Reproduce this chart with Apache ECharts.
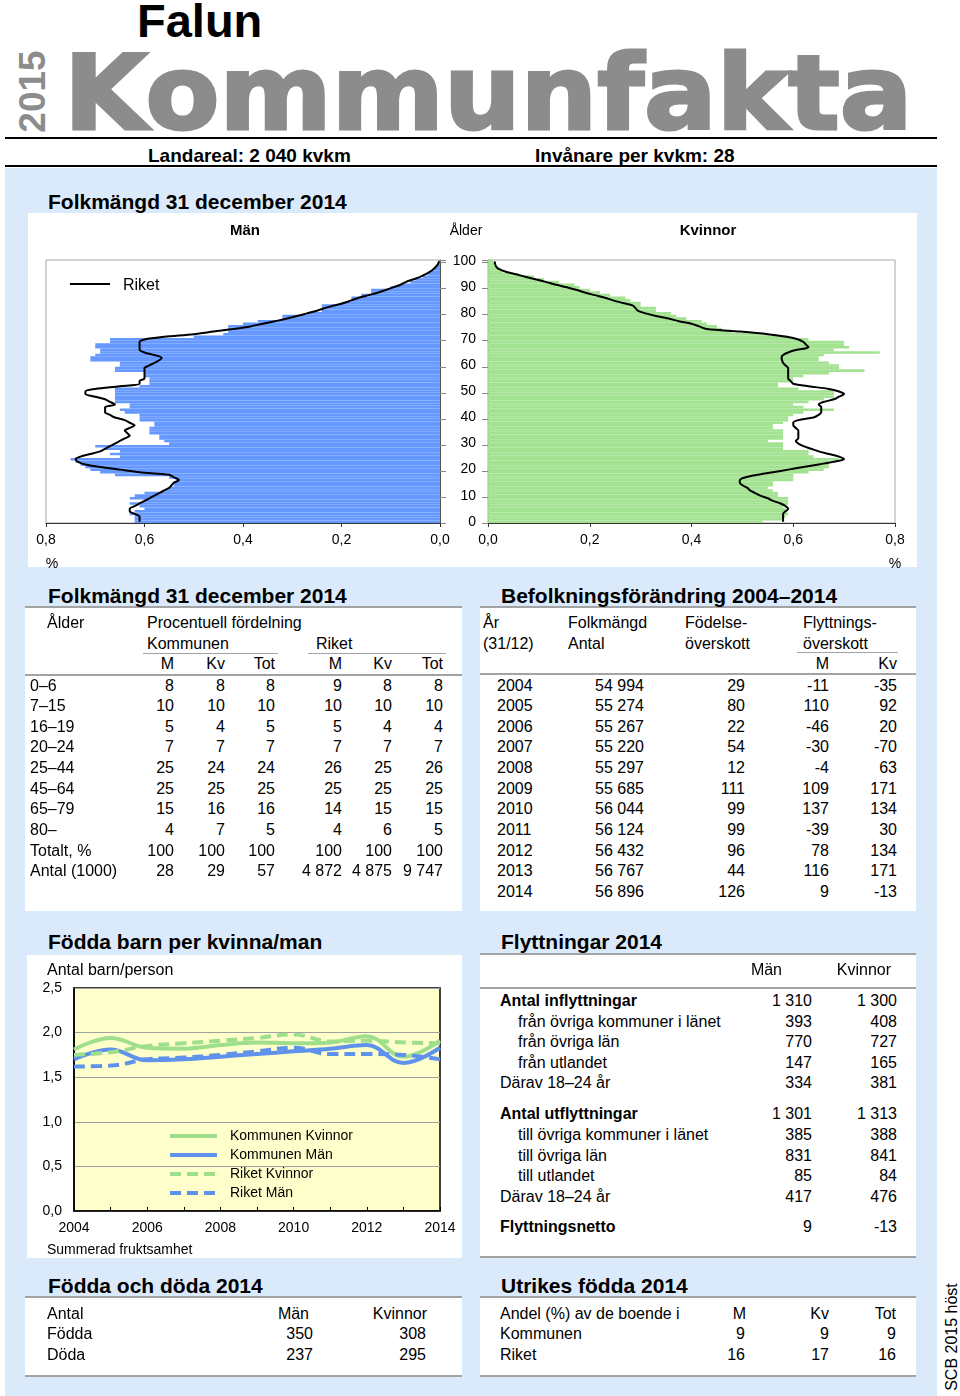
<!DOCTYPE html>
<html lang="sv"><head><meta charset="utf-8"><title>Falun Kommunfakta 2015</title>
<script src="https://cdn.jsdelivr.net/npm/echarts/dist/echarts.min.js"></script>
<style>
html,body{margin:0;padding:0;}
body{width:960px;height:1396px;position:relative;overflow:hidden;background:#fff;font-family:"Liberation Sans",Arial,sans-serif;}
.t{position:absolute;white-space:nowrap;z-index:3;}
.box{position:absolute;}
</style></head><body>
<div id="pyr" class="box" style="left:28px;top:213px;width:889px;height:354px;z-index:2;"></div>
<div id="tfr" class="box" style="left:27px;top:955px;width:435px;height:303px;z-index:2;"></div>
<script>
// ---------- DATA ----------
const ages = [0,1,2,3,4,5,6,7,8,9,10,11,12,13,14,15,16,17,18,19,20,21,22,23,24,25,26,27,28,29,30,31,32,33,34,35,36,37,38,39,40,41,42,43,44,45,46,47,48,49,50,51,52,53,54,55,56,57,58,59,60,61,62,63,64,65,66,67,68,69,70,71,72,73,74,75,76,77,78,79,80,81,82,83,84,85,86,87,88,89,90,91,92,93,94,95,96,97,98,99,100];
const kommunMan = [0.62,0.62,0.62,0.63,0.62,0.60,0.61,0.63,0.60,0.63,
 0.62,0.60,0.56,0.55,0.54,0.54,0.53,0.55,0.66,0.69,
 0.71,0.72,0.73,0.74,0.75,0.65,0.67,0.65,0.68,0.70,
 0.55,0.56,0.57,0.57,0.59,0.59,0.59,0.58,0.58,0.61,
 0.61,0.61,0.64,0.65,0.63,0.63,0.66,0.66,0.66,0.66,
 0.66,0.66,0.61,0.59,0.59,0.59,0.60,0.60,0.66,0.66,
 0.65,0.65,0.71,0.71,0.70,0.69,0.69,0.70,0.70,0.67,
 0.67,0.50,0.44,0.43,0.43,0.43,0.40,0.37,0.32,0.32,
 0.27,0.24,0.24,0.24,0.20,0.18,0.18,0.16,0.14,0.14,
 0.10,0.08,0.06,0.05,0.035,0.025,0.02,0.012,0.008,0.005,
 0.003];
const riketMan = [0.61,0.61,0.61,0.62,0.63,0.63,0.62,0.61,0.60,0.59,
 0.58,0.57,0.56,0.55,0.545,0.54,0.53,0.54,0.55,0.61,
 0.65,0.69,0.72,0.735,0.74,0.73,0.71,0.69,0.68,0.67,
 0.66,0.65,0.64,0.63,0.635,0.64,0.63,0.62,0.63,0.64,
 0.66,0.67,0.68,0.68,0.68,0.66,0.67,0.68,0.70,0.72,
 0.72,0.70,0.65,0.61,0.61,0.60,0.60,0.60,0.60,0.60,
 0.59,0.58,0.57,0.565,0.58,0.60,0.61,0.61,0.61,0.61,
 0.60,0.56,0.50,0.46,0.42,0.385,0.36,0.335,0.31,0.29,
 0.27,0.25,0.235,0.215,0.195,0.18,0.165,0.145,0.125,0.11,
 0.095,0.08,0.07,0.055,0.04,0.03,0.02,0.013,0.008,0.004,
 0.002];
const kommunKvinnor = [0.54,0.58,0.585,0.59,0.585,0.585,0.58,0.59,0.59,0.59,
 0.57,0.57,0.56,0.55,0.56,0.56,0.60,0.60,0.60,0.63,
 0.66,0.67,0.67,0.67,0.69,0.64,0.63,0.63,0.58,0.58,
 0.58,0.55,0.58,0.58,0.58,0.58,0.56,0.56,0.58,0.59,
 0.59,0.60,0.62,0.68,0.62,0.60,0.63,0.66,0.68,0.68,
 0.68,0.61,0.57,0.57,0.60,0.60,0.62,0.67,0.74,0.69,
 0.69,0.67,0.65,0.65,0.66,0.77,0.68,0.71,0.70,0.70,
 0.63,0.59,0.55,0.48,0.46,0.45,0.43,0.42,0.39,0.37,
 0.36,0.33,0.33,0.30,0.30,0.28,0.27,0.24,0.22,0.20,
 0.18,0.17,0.14,0.11,0.09,0.06,0.03,0.025,0.015,0.012,
 0.01];
const riketKvinnor = [0.58,0.58,0.58,0.58,0.585,0.59,0.585,0.575,0.56,0.55,
 0.535,0.525,0.515,0.51,0.50,0.495,0.495,0.505,0.53,0.56,
 0.59,0.62,0.65,0.68,0.70,0.69,0.67,0.65,0.635,0.62,
 0.61,0.605,0.61,0.61,0.61,0.61,0.605,0.60,0.60,0.61,
 0.64,0.65,0.655,0.655,0.655,0.65,0.66,0.68,0.69,0.70,
 0.69,0.67,0.63,0.60,0.595,0.59,0.59,0.59,0.59,0.59,
 0.585,0.58,0.578,0.577,0.58,0.59,0.607,0.63,0.625,0.62,
 0.61,0.587,0.55,0.495,0.43,0.415,0.40,0.375,0.355,0.33,
 0.31,0.295,0.29,0.285,0.265,0.246,0.23,0.21,0.19,0.175,
 0.155,0.134,0.115,0.095,0.075,0.055,0.035,0.022,0.016,0.014,
 0.013];
const pyrTicks = [0, 0.2, 0.4, 0.6, 0.8];

const tfrYears = ['2004','2005','2006','2007','2008','2009','2010','2011','2012','2013','2014'];
const tfrKommunKvinnor = [1.81,1.94,1.83,1.82,1.86,1.89,1.88,1.89,1.96,1.73,1.91];
const tfrKommunMan     = [1.70,1.81,1.69,1.70,1.73,1.76,1.79,1.82,1.86,1.66,1.83];
const tfrRiketKvinnor  = [1.75,1.78,1.85,1.88,1.91,1.94,1.98,1.90,1.91,1.89,1.88];
const tfrRiketMan      = [1.62,1.63,1.70,1.72,1.75,1.79,1.83,1.76,1.76,1.75,1.70];

const ageGroups = ['0–6','7–15','16–19','20–24','25–44','45–64','65–79','80–','Totalt, %','Antal (1000)'];
const komM   = ['8','10','5','7','25','25','15','4','100','28'];
const komKv  = ['8','10','4','7','24','25','16','7','100','29'];
const komTot = ['8','10','5','7','24','25','16','5','100','57'];
const rikM   = ['9','10','5','7','26','25','14','4','100','4 872'];
const rikKv  = ['8','10','4','7','25','25','15','6','100','4 875'];
const rikTot = ['8','10','4','7','26','25','15','5','100','9 747'];

const befYears  = ['2004','2005','2006','2007','2008','2009','2010','2011','2012','2013','2014'];
const folkmangd = ['54 994','55 274','55 267','55 220','55 297','55 685','56 044','56 124','56 432','56 767','56 896'];
const fodOversk = [29,80,22,54,12,111,99,99,96,44,126];
const flyttOverM  = [-11,110,-46,-30,-4,109,137,-39,78,116,9];
const flyttOverKv = [-35,92,20,-70,63,171,134,30,134,171,-13];

const flyttLabels = ['Antal inflyttningar','från övriga kommuner i länet','från övriga län','från utlandet','Därav 18–24 år','Antal utflyttningar','till övriga kommuner i länet','till övriga län','till utlandet','Därav 18–24 år','Flyttningsnetto'];
const flyttMan     = ['1 310','393','770','147','334','1 301','385','831','85','417','9'];
const flyttKvinnor = ['1 300','408','727','165','381','1 313','388','841','84','476','-13'];

const foddaLabels = ['Födda','Döda'];
const foddaMan = [350,237];
const foddaKvinnor = [308,295];

const utrLabels = ['Kommunen','Riket'];
const utrM = [9,16];
const utrKv = [9,17];
const utrTot = [9,16];

// ---------- LAYOUT (positions & styles) ----------
const FONT = '"Liberation Sans", Arial, sans-serif';
function T(x, yc, s, o) {
  o = o || {};
  const size = o.size || 16;
  const d = document.createElement('div');
  d.className = 't';
  d.textContent = s;
  d.style.fontSize = size + 'px';
  d.style.lineHeight = size + 'px';
  d.style.fontWeight = o.bold ? 'bold' : 'normal';
  d.style.color = o.color || '#000';
  d.style.fontFamily = o.font || FONT;
  d.style.top = (yc - 0.4885 * size) + 'px';
  if (o.align === 'right') d.style.right = (960 - x) + 'px';
  else if (o.align === 'center') { d.style.left = x + 'px'; d.style.transform = 'translateX(-50%)'; }
  else d.style.left = x + 'px';
  document.body.appendChild(d);
  return d;
}
function R(x, y, w, h, c, z) {
  const d = document.createElement('div');
  d.className = 'box';
  d.style.cssText = `left:${x}px;top:${y}px;width:${w}px;height:${h}px;background:${c};z-index:${z||0};`;
  document.body.appendChild(d);
  return d;
}
const BG = '#dbeafb', GL = '#a3a3a3';

// background & panels
R(5, 168, 932, 1228, BG, 0);
R(5, 137, 932, 2, '#000', 1);
R(5, 165, 932, 2, '#000', 1);
R(28, 213, 889, 354, '#fff', 1);
R(25, 607, 437, 304, '#fff', 1);
R(480, 607, 436, 304, '#fff', 1);
R(27, 955, 435, 303, '#fff', 1);
R(480, 955, 436, 303, '#fff', 1);
R(25, 1297, 437, 80, '#fff', 1);
R(480, 1297, 436, 80, '#fff', 1);

// header
T(137, 20, 'Falun', {size:47, bold:true});
const kf = T(64, 91.5, 'Kommunfakta', {size:104, bold:true, color:'#8c8c8c', font:'"DejaVu Sans", sans-serif'});
kf.style.webkitTextStroke = '3px #8c8c8c';
kf.style.transformOrigin = 'left center';
kf.style.transform = 'scaleX(' + (849 / kf.offsetWidth) + ')';
const y15 = T(0, 0, '2015', {size:37, bold:true, color:'#8c8c8c'});
y15.style.width = '100px'; y15.style.textAlign = 'center';
y15.style.left = (32 - 50) + 'px'; y15.style.top = (91 - 18.5) + 'px';
y15.style.transform = 'rotate(-90deg)';
T(148, 155, 'Landareal: 2 040 kvkm', {size:19, bold:true});
T(535, 155, 'Invånare per kvkm: 28', {size:19, bold:true});

// section titles
T(48, 201, 'Folkmängd 31 december 2014', {size:21, bold:true});
T(48, 595, 'Folkmängd 31 december 2014', {size:21, bold:true});
T(501, 595, 'Befolkningsförändring 2004–2014', {size:21, bold:true});
T(48, 941, 'Födda barn per kvinna/man', {size:21, bold:true});
T(501, 941, 'Flyttningar 2014', {size:21, bold:true});
T(48, 1285, 'Födda och döda 2014', {size:21, bold:true});
T(501, 1285, 'Utrikes födda 2014', {size:21, bold:true});

// pyramid labels
T(245, 229, 'Män', {size:15, bold:true, align:'center'});
T(466, 230, 'Ålder', {size:14, align:'center'});
T(708, 229, 'Kvinnor', {size:15, bold:true, align:'center'});
T(52, 563, '%', {size:14, align:'center'});
T(895, 563, '%', {size:14, align:'center'});

// left table
R(25, 606, 437, 2, GL, 2);
R(143, 653, 135, 1, GL, 2);
R(308, 653, 138, 1, GL, 2);
R(25, 674, 437, 2, GL, 2);
T(47, 623, 'Ålder'); T(147, 623, 'Procentuell fördelning');
T(147, 644, 'Kommunen'); T(316, 644, 'Riket');
const lcols = [174, 225, 275, 342, 392, 443];
['M','Kv','Tot','M','Kv','Tot'].forEach((h,i) => T(lcols[i], 664, h, {align:'right'}));
const rowY = [686,706,727,747,768,789,809,830,851,871,892];
ageGroups.forEach((g,i) => {
  T(30, rowY[i], g);
  [komM, komKv, komTot, rikM, rikKv, rikTot].forEach((arr,j) => T(lcols[j], rowY[i], arr[i], {align:'right'}));
});

// right table
R(480, 606, 436, 2, GL, 2);
R(797, 652, 101, 1, GL, 2);
R(480, 673, 436, 2, GL, 2);
T(483, 623, 'År'); T(483, 644, '(31/12)');
T(568, 623, 'Folkmängd'); T(568, 644, 'Antal');
T(685, 623, 'Födelse-'); T(685, 644, 'överskott');
T(803, 623, 'Flyttnings-'); T(803, 644, 'överskott');
T(829, 664, 'M', {align:'right'}); T(897, 664, 'Kv', {align:'right'});
befYears.forEach((yr,i) => {
  T(497, rowY[i], yr);
  T(644, rowY[i], folkmangd[i], {align:'right'});
  T(745, rowY[i], String(fodOversk[i]), {align:'right'});
  T(829, rowY[i], String(flyttOverM[i]), {align:'right'});
  T(897, rowY[i], String(flyttOverKv[i]), {align:'right'});
});

// line chart texts
T(47, 970, 'Antal barn/person');
T(47, 1249, 'Summerad fruktsamhet', {size:14});

// flyttningar table
R(480, 953, 436, 2, GL, 2);
R(480, 987, 436, 2, GL, 2);
R(480, 1256, 436, 2, GL, 2);
T(782, 970, 'Män', {align:'right'}); T(891, 970, 'Kvinnor', {align:'right'});
const flyttY = [1001,1022,1042,1063,1083,1114,1135,1156,1176,1197,1227];
const flyttKind = ['b','i','i','i','n','b','i','i','i','n','b'];
flyttLabels.forEach((l,i) => {
  T(flyttKind[i] === 'i' ? 518 : 500, flyttY[i], l, {bold: flyttKind[i] === 'b'});
  T(812, flyttY[i], flyttMan[i], {align:'right'});
  T(897, flyttY[i], flyttKvinnor[i], {align:'right'});
});

// födda och döda
R(25, 1296, 437, 2, GL, 2); R(25, 1375, 437, 2, GL, 2);
T(47, 1314, 'Antal'); T(309, 1314, 'Män', {align:'right'}); T(427, 1314, 'Kvinnor', {align:'right'});
const smallY = [1334, 1355];
foddaLabels.forEach((l,i) => {
  T(47, smallY[i], l);
  T(313, smallY[i], String(foddaMan[i]), {align:'right'});
  T(426, smallY[i], String(foddaKvinnor[i]), {align:'right'});
});

// utrikes födda
R(480, 1296, 436, 2, GL, 2); R(480, 1375, 436, 2, GL, 2);
T(500, 1314, 'Andel (%) av de boende i');
T(746, 1314, 'M', {align:'right'}); T(829, 1314, 'Kv', {align:'right'}); T(896, 1314, 'Tot', {align:'right'});
utrLabels.forEach((l,i) => {
  T(500, smallY[i], l);
  T(745, smallY[i], String(utrM[i]), {align:'right'});
  T(829, smallY[i], String(utrKv[i]), {align:'right'});
  T(896, smallY[i], String(utrTot[i]), {align:'right'});
});

// SCB footer (rotated)
const scb = T(0, 0, 'SCB 2015 höst', {size:16});
scb.style.width = '140px'; scb.style.textAlign = 'center';
scb.style.left = (952 - 70) + 'px'; scb.style.top = (1337 - 8) + 'px';
scb.style.transform = 'rotate(-90deg)';

// ---------- CHARTS ----------
const BLUE = '#6699ff', GREEN = '#a3e291';
const fmt1 = v => v.toFixed(1).replace('.', ',');

const pyr = echarts.init(document.getElementById('pyr'));
pyr.setOption({
  animation: false,
  backgroundColor: '#fff',
  textStyle: {fontFamily: FONT},
  grid: [
    {left: 18, top: 47, width: 394, height: 263, show: true, borderColor: '#a8a8a8', borderWidth: 1, containLabel: false},
    {left: 460, top: 47, width: 407, height: 263, show: true, borderColor: '#a8a8a8', borderWidth: 1, containLabel: false}
  ],
  xAxis: [0, 1].map(g => ({
    gridIndex: g, type: 'value', min: pyrTicks[0], max: pyrTicks[pyrTicks.length-1], interval: 0.2, inverse: g === 0,
    axisLine: {show: true, lineStyle: {color: '#333', width: 1}},
    axisTick: {show: true, length: 4, lineStyle: {color: '#333'}},
    axisLabel: {formatter: fmt1, fontSize: 14, color: '#000', margin: 10},
    splitLine: {show: false}
  })),
  yAxis: [
    {gridIndex: 0, type: 'category', data: ages, position: 'right',
     axisLine: {show: true, lineStyle: {color: '#555'}},
     axisTick: {show: true, interval: 9, length: 6, lineStyle: {color: '#888'}},
     axisLabel: {show: false}},
    {gridIndex: 1, type: 'category', data: ages, position: 'left',
     axisLine: {show: true, lineStyle: {color: '#777'}},
     axisTick: {show: true, interval: 9, length: 6, lineStyle: {color: '#888'}},
     axisLabel: {show: true, interval: 9, fontSize: 14, color: '#000', margin: 12}}
  ],
  graphic: [
    {type: 'line', shape: {x1: 42, y1: 71, x2: 82, y2: 71}, style: {stroke: '#000', lineWidth: 2}},
    {type: 'text', x: 95, y: 73, style: {text: 'Riket', fontSize: 16, fill: '#000', fontFamily: FONT, verticalAlign: 'middle'}}
  ],
  series: [
    {name: 'Kommunen Män', type: 'bar', xAxisIndex: 0, yAxisIndex: 0, data: kommunMan, barCategoryGap: '0%', itemStyle: {color: BLUE}},
    {name: 'Riket', type: 'line', xAxisIndex: 0, yAxisIndex: 0, data: riketMan, smooth: 0.3, symbol: 'none', lineStyle: {color: '#000', width: 2}, z: 5},
    {name: 'Kommunen Kvinnor', type: 'bar', xAxisIndex: 1, yAxisIndex: 1, data: kommunKvinnor, barCategoryGap: '0%', itemStyle: {color: GREEN}},
    {name: 'Riket', type: 'line', xAxisIndex: 1, yAxisIndex: 1, data: riketKvinnor, smooth: 0.3, symbol: 'none', lineStyle: {color: '#000', width: 2}, z: 5}
  ]
});

const LG = '#9fdf8c', LB = '#5f92ea';
const tfr = echarts.init(document.getElementById('tfr'));
tfr.setOption({
  animation: false,
  backgroundColor: '#fff',
  textStyle: {fontFamily: FONT},
  grid: {left: 47, top: 33, width: 366, height: 223, show: true, backgroundColor: '#ffffcc', borderColor: '#000', borderWidth: 1.5},
  legend: {
    orient: 'vertical', left: 136, top: 169, itemWidth: 47, itemHeight: 14, itemGap: 5,
    textStyle: {fontSize: 14, color: '#000', padding: [0, 0, 0, 8]},
    itemStyle: {opacity: 0, borderWidth: 0},
    lineStyle: {width: 4},
    data: ['Kommunen Kvinnor', 'Kommunen Män', 'Riket Kvinnor', 'Riket Män']
  },
  xAxis: {
    type: 'category', data: tfrYears, boundaryGap: false,
    axisLine: {show: true, lineStyle: {color: '#000', width: 1.5}},
    axisTick: {show: true, interval: 0, inside: true, length: 4, lineStyle: {color: '#000'}},
    axisLabel: {interval: 1, fontSize: 14, color: '#000', margin: 10},
    splitLine: {show: false}
  },
  yAxis: {
    type: 'value', min: 0, max: 2.5, interval: 0.5,
    axisLine: {show: true, lineStyle: {color: '#000', width: 1.5}},
    axisTick: {show: false},
    axisLabel: {formatter: fmt1, fontSize: 14, color: '#000', margin: 12},
    splitLine: {show: true, lineStyle: {color: '#a0a0a0', width: 1}}
  },
  series: [
    {name: 'Kommunen Kvinnor', type: 'line', data: tfrKommunKvinnor, smooth: 0.4, symbol: 'none', lineStyle: {color: LG, width: 4}, itemStyle: {color: LG}},
    {name: 'Kommunen Män', type: 'line', data: tfrKommunMan, smooth: 0.4, symbol: 'none', lineStyle: {color: LB, width: 4}, itemStyle: {color: LB}},
    {name: 'Riket Kvinnor', type: 'line', data: tfrRiketKvinnor, smooth: 0.4, symbol: 'none', lineStyle: {color: LG, width: 4, type: [11, 6]}, itemStyle: {color: LG}},
    {name: 'Riket Män', type: 'line', data: tfrRiketMan, smooth: 0.4, symbol: 'none', lineStyle: {color: LB, width: 4, type: [11, 6]}, itemStyle: {color: LB}}
  ]
});
</script>
</body></html>
